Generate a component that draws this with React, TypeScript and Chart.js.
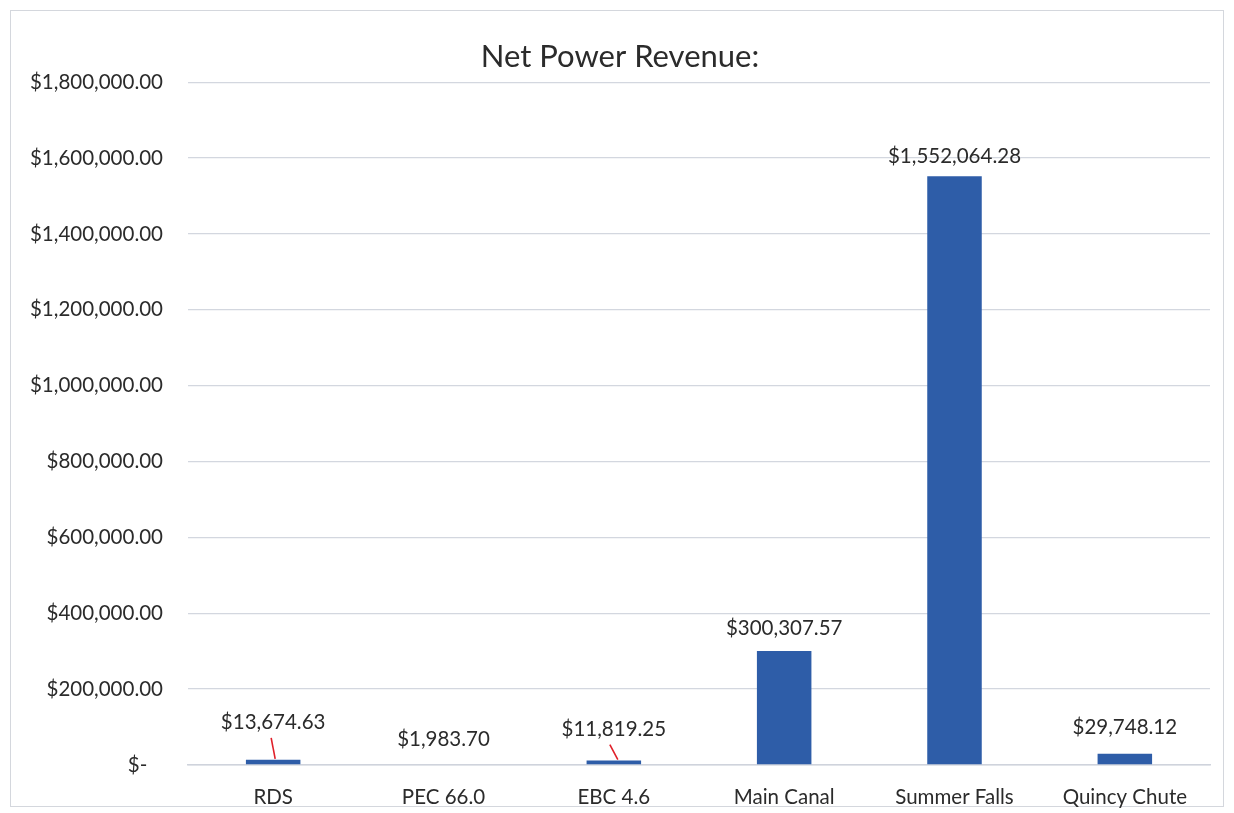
import React, { useEffect, useRef } from "react";
import { Chart, registerables } from "chart.js";

Chart.register(...registerables);

const categories = ["RDS", "PEC 66.0", "EBC 4.6", "Main Canal", "Summer Falls", "Quincy Chute"];
const revenue = [13674.63, 1983.7, 11819.25, 300307.57, 1552064.28, 29748.12];
const yTicks = [0, 200000, 400000, 600000, 800000, 1000000, 1200000, 1400000, 1600000, 1800000];

const FONT = "Lato, 'Open Sans', sans-serif";

const fmtMoney = (v: number) =>
  "$" + v.toLocaleString("en-US", { minimumFractionDigits: 2, maximumFractionDigits: 2 });

// Per-bar label lift above the bar top (px) and whether a leader line is drawn
const labelLift = [37, 25, 31, 23, 20, 26];
const leaderLean = [2, 0, 6, 0, 0, 0];
const hasLeader = [true, false, true, false, false, false];

const labelPlugin = {
  id: "valueLabels",
  afterDatasetsDraw(chart: any) {
    const { ctx } = chart;
    const meta = chart.getDatasetMeta(0);
    ctx.save();
    ctx.font = `20.5px ${FONT}`;
    ctx.textAlign = "center";
    ctx.textBaseline = "middle";
    meta.data.forEach((bar: any, i: number) => {
      const x = bar.x;
      const top = bar.y;
      const ly = top - labelLift[i];
      ctx.fillStyle = "#2b2b2b";
      ctx.fillText(fmtMoney(revenue[i]), x, ly);
      if (hasLeader[i]) {
        ctx.strokeStyle = "#e0202a";
        ctx.lineWidth = 1.6;
        ctx.beginPath();
        ctx.moveTo(x - leaderLean[i] / 2 - 1, ly + 15);
        ctx.lineTo(x + leaderLean[i] / 2 + 1, top - 1);
        ctx.stroke();
      }
    });
    ctx.restore();
  },
};

export default function App() {
  const ref = useRef<HTMLCanvasElement | null>(null);
  useEffect(() => {
    if (!ref.current) return;
    const chart = new Chart(ref.current, {
      type: "bar",
      data: {
        labels: categories,
        datasets: [
          {
            data: revenue,
            backgroundColor: "#2E5DA8",
            categoryPercentage: 1,
            barPercentage: 0.32,
          },
        ],
      },
      options: {
        animation: false,
        responsive: false,
        maintainAspectRatio: false,
        layout: { padding: { top: 38, left: 30, right: 24, bottom: 0 } },
        plugins: {
          legend: { display: false },
          tooltip: { enabled: false },
          title: {
            display: true,
            text: "Net Power Revenue:",
            color: "#2b2b2b",
            font: { family: FONT, size: 31, weight: "normal" },
            padding: { top: 0, bottom: 7 },
          },
        },
        scales: {
          x: {
            grid: { display: false, drawTicks: false },
            border: { display: true, color: "#cfd3dc", width: 1.5 },
            afterFit: (scale: any) => {
              scale.height = 48;
            },
            ticks: {
              color: "#2b2b2b",
              font: { family: FONT, size: 20.5 },
              padding: 20,
              maxRotation: 0,
            },
          },
          y: {
            min: 0,
            max: 1800000,
            afterBuildTicks: (axis: any) => {
              axis.ticks = yTicks.map((v) => ({ value: v }));
            },
            afterFit: (scale: any) => {
              scale.width = 158;
            },
            grid: { color: "#d3d7df", lineWidth: 1.3, drawTicks: false },
            border: { display: false },
            ticks: {
              color: "#2b2b2b",
              font: { family: FONT, size: 20.5 },
              padding: 25,
              callback: (v: any) => (Number(v) === 0 ? "$-   " : fmtMoney(Number(v))),
            },
          },
        },
      },
      plugins: [labelPlugin],
    });
    return () => chart.destroy();
  }, []);

  return (
    <div style={{ position: "fixed", left: 0, top: 0, width: 1234, height: 813, background: "#fff" }}>
      <div
        style={{
          position: "absolute",
          left: 10,
          top: 10,
          width: 1214,
          height: 797,
          border: "1.5px solid #d4d7dd",
          boxSizing: "border-box",
        }}
      />
      <canvas ref={ref} width={1234} height={813} style={{ position: "absolute", left: 0, top: 0 }} />
    </div>
  );
}
